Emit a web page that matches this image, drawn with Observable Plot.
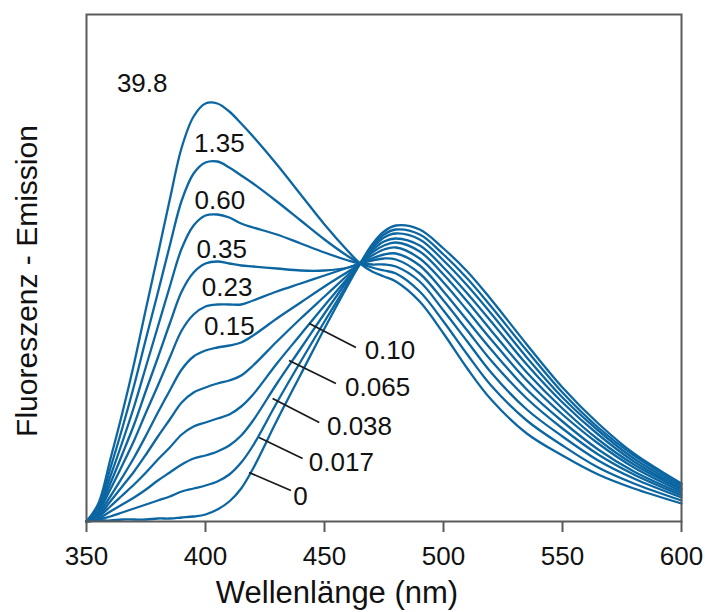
<!DOCTYPE html>
<html>
<head>
<meta charset="utf-8">
<script src="https://cdn.jsdelivr.net/npm/d3@7"></script>
<script src="https://cdn.jsdelivr.net/npm/@observablehq/plot@0.6"></script>
<style>
  html, body { margin: 0; padding: 0; background: #fff; }
  #chart { width: 705px; height: 612px; }
</style>
</head>
<body>
<div id="chart"></div>
<script>
// Wavelength grid (nm)
const wavelengths = [350,355,360,365,370,375,380,385,390,395,400,405,410,415,420,430,440,450,460,465,470,475,480,490,500,510,520,535,550,565,580,600];

// Concentrations (curve labels)
const concentrations = ["0","0.017","0.038","0.065","0.10","0.15","0.23","0.35","0.60","1.35","39.8"];

// Emission intensity (arbitrary units) per concentration
const em_0     = [0,1,1,2,2,2,3,3,4,5,7,12,20,33,53,101,147,193,237,258,277,290,296,292,273,250,222,177,134,98,68,38];
const em_0017  = [0,2,5,9,13,17,21,25,30,33,36,40,47,59,76,119,160,200,239,258,275,287,292,287,267,243,215,171,129,94,66,37];
const em_0038  = [0,3,10,17,24,32,41,49,57,63,66,70,76,86,101,138,173,208,242,258,273,284,288,282,261,236,208,164,124,91,63,35];
const em_0065  = [0,5,15,26,37,49,62,74,87,95,99,103,107,115,127,158,187,216,244,258,271,280,283,276,254,228,200,157,119,87,60,33];
const em_010   = [0,6,20,35,50,67,85,102,119,129,134,138,141,146,156,180,203,225,247,258,269,276,279,270,247,220,191,149,113,82,57,32];
const em_015   = [0,8,25,44,64,86,109,131,152,165,171,174,176,179,186,203,219,235,250,258,266,272,274,263,239,211,182,141,107,78,54,30];
const em_023   = [0,10,32,56,81,109,136,164,191,207,215,217,217,217,221,230,238,246,254,258,263,267,268,256,230,201,172,132,100,72,50,28];
const em_035   = [0,11,38,67,97,131,164,198,230,249,258,260,258,256,255,253,251,251,254,258,261,263,262,248,221,191,161,123,93,67,47,26];
const em_060   = [0,13,45,79,115,155,195,235,273,296,306,307,304,298,294,287,278,269,261,258,257,257,255,240,211,180,149,112,85,61,43,24];
const em_135   = [0,16,53,93,136,183,229,276,321,348,359,360,354,346,338,320,301,282,265,258,254,251,248,230,200,167,136,101,76,54,38,21];
const em_398   = [0,18,62,108,158,213,267,322,374,405,418,418,410,398,385,357,327,297,270,258,250,245,240,220,188,153,122,88,66,47,33,18];

// Label anchors (wavelength, intensity) and leader lines
const labelWl    = [439.9,457.1,464.7,472.3,477.5,410.0,409.1,406.8,406.0,405.8,373.4];
const labelLevel = [25,59,95,134,171,195,234,272,321,378,438];
const leaderConc = ["0","0.017","0.038","0.065","0.10"];
const leaderWl1  = [418.3,422.5,428.2,435.1,443.6];
const leaderLv1  = [49,84,123,161,198];
const leaderWl2  = [435.9,440.8,447.8,454.8,463.2];
const leaderLv2  = [31,63,99,138,174];

const xTicks = [350,400,450,500,550,600];

const seriesValues = [em_0, em_0017, em_0038, em_0065, em_010, em_015, em_023, em_035, em_060, em_135, em_398];
const table = [];
concentrations.forEach((c, i) => {
  wavelengths.forEach((w, j) => table.push({series: c, wl: w, value: seriesValues[i][j]}));
});
const labels = concentrations.map((c, i) => ({text: c, wl: labelWl[i], level: labelLevel[i]}));
const leaders = leaderConc.map((c, i) => ({c, x1: leaderWl1[i], y1: leaderLv1[i], x2: leaderWl2[i], y2: leaderLv2[i]}));

const blue = "#0c66a2";

const chart = Plot.plot({
  width: 705,
  height: 612,
  marginLeft: 86,
  marginRight: 24,
  marginTop: 14,
  marginBottom: 91,
  style: {fontFamily: "'Liberation Sans', Arial, Helvetica, sans-serif", background: "#fff", color: "#111"},
  x: {domain: [350, 600]},
  y: {domain: [0, 507]},
  marks: [
    Plot.line(table, {x: "wl", y: "value", z: "series", stroke: blue, strokeWidth: 2.3, curve: "catmull-rom"}),
    Plot.link(leaders, {x1: "x1", y1: "y1", x2: "x2", y2: "y2", stroke: "#1a1a1a", strokeWidth: 1.8}),
    Plot.text(labels, {x: "wl", y: "level", text: "text", fontSize: 26, fill: "#111", textAnchor: "middle", lineAnchor: "middle"}),
    Plot.frame({stroke: "#5a5a5a", strokeWidth: 2}),
    Plot.axisX({ticks: xTicks, tickSize: 11, tickPadding: 14, fontSize: 26, label: null, stroke: "#5a5a5a", strokeWidth: 2, tickFormat: d => String(d)}),
    Plot.axisY({ticks: [], label: null}),
    Plot.text(["Wellenlänge (nm)"], {frameAnchor: "bottom", dx: -47, dy: 72, fontSize: 31, textAnchor: "middle", lineAnchor: "middle", fill: "#111"}),
    Plot.text(["Fluoreszenz - Emission"], {frameAnchor: "left", dx: -59, dy: 13, rotate: -90, fontSize: 30, textAnchor: "middle", lineAnchor: "middle", fill: "#111"})
  ]
});
document.getElementById("chart").appendChild(chart);
</script>
</body>
</html>
